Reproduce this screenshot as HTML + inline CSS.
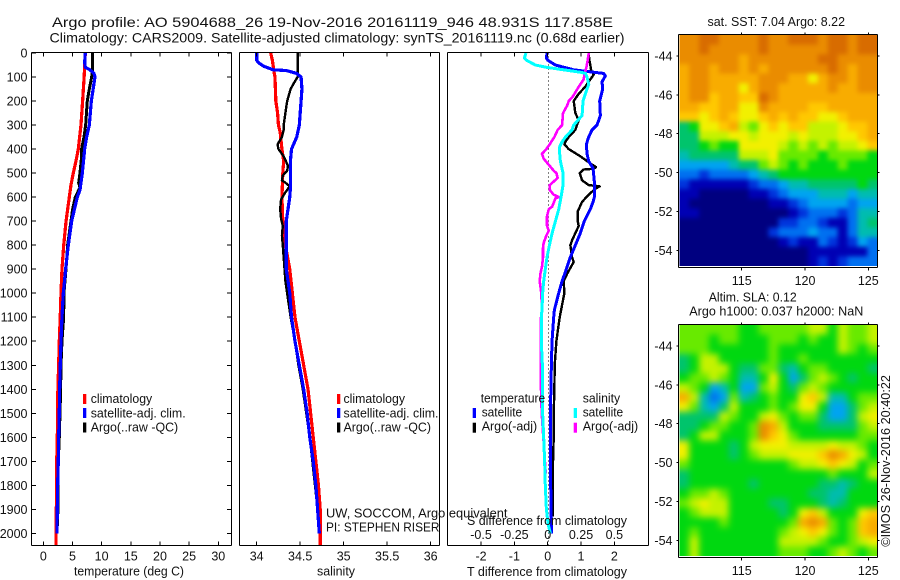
<!DOCTYPE html>
<html>
<head>
<meta charset="utf-8">
<title>Argo profile</title>
<style>
html,body{margin:0;padding:0;background:#fff;}
svg{display:block;}
text{font-family:"Liberation Sans",sans-serif;fill:#111;}
.t14{font-size:14px;}
.t12{font-size:12.5px;}
</style>
</head>
<body>
<svg id="chart" xmlns="http://www.w3.org/2000/svg" width="900" height="580" viewBox="0 0 900 580">
  <defs>
    <clipPath id="clip-sst"><rect x="679.5" y="35" width="198" height="231"/></clipPath>
    <clipPath id="clip-sla"><rect x="679.5" y="325" width="198" height="231"/></clipPath>
    <filter id="blur-sst" filterUnits="userSpaceOnUse" x="640" y="0" width="260" height="300" color-interpolation-filters="sRGB"><feGaussianBlur stdDeviation="2.5"/></filter>
    <filter id="blur-sla" filterUnits="userSpaceOnUse" x="640" y="290" width="260" height="290" color-interpolation-filters="sRGB"><feGaussianBlur stdDeviation="3.5"/></filter>
  </defs>

  <text class="t14" x="52" y="27" textLength="561" lengthAdjust="spacingAndGlyphs">Argo profile: AO 5904688_26 19-Nov-2016 20161119_946 48.931S 117.858E</text>
  <text class="t14" x="49.5" y="42.5" textLength="575" lengthAdjust="spacingAndGlyphs">Climatology: CARS2009. Satellite-adjusted climatology: synTS_20161119.nc (0.68d earlier)</text>

  <g id="plots"></g>
  <g id="maps"></g>

  <text class="t12" x="74" y="575.5" textLength="110" lengthAdjust="spacingAndGlyphs">temperature (deg C)</text>
  <text class="t12" x="317" y="575.5" textLength="38" lengthAdjust="spacingAndGlyphs">salinity</text>
  <text class="t12" x="467" y="576" textLength="160" lengthAdjust="spacingAndGlyphs">T difference from climatology</text>
  <text class="t12" x="467" y="525" textLength="160" lengthAdjust="spacingAndGlyphs">S difference from climatology</text>

  <g>
    <rect x="83" y="394" width="3.3" height="10" fill="#f00"/>
    <text class="t12" x="90.7" y="403" textLength="61.5" lengthAdjust="spacingAndGlyphs">climatology</text>
    <rect x="83" y="408" width="3.3" height="10" fill="#00f"/>
    <text class="t12" x="90.7" y="417.3" textLength="95" lengthAdjust="spacingAndGlyphs">satellite-adj. clim.</text>
    <rect x="83" y="422.5" width="3.3" height="10" fill="#000"/>
    <text class="t12" x="90.7" y="431.3" textLength="87.5" lengthAdjust="spacingAndGlyphs">Argo(..raw -QC)</text>
  </g>
  <g>
    <rect x="337" y="394" width="3.3" height="10" fill="#f00"/>
    <text class="t12" x="343.5" y="403" textLength="61.5" lengthAdjust="spacingAndGlyphs">climatology</text>
    <rect x="337" y="408" width="3.3" height="10" fill="#00f"/>
    <text class="t12" x="343.5" y="417.3" textLength="95" lengthAdjust="spacingAndGlyphs">satellite-adj. clim.</text>
    <rect x="337" y="422.5" width="3.3" height="10" fill="#000"/>
    <text class="t12" x="343.5" y="431.3" textLength="87.5" lengthAdjust="spacingAndGlyphs">Argo(..raw -QC)</text>
  </g>
  <g>
    <text class="t12" x="480.7" y="402.7" textLength="64.5" lengthAdjust="spacingAndGlyphs">temperature</text>
    <rect x="472.7" y="408" width="3.3" height="10" fill="#00f"/>
    <text class="t12" x="481.7" y="416.7" textLength="40.5" lengthAdjust="spacingAndGlyphs">satellite</text>
    <rect x="472.7" y="422.7" width="3.3" height="10" fill="#000"/>
    <text class="t12" x="481.7" y="430.7" textLength="55.5" lengthAdjust="spacingAndGlyphs">Argo(-adj)</text>
    <text class="t12" x="582.7" y="402.7" textLength="37.5" lengthAdjust="spacingAndGlyphs">salinity</text>
    <rect x="573.7" y="408" width="3.3" height="10" fill="#0ff"/>
    <text class="t12" x="582.7" y="416.7" textLength="40.5" lengthAdjust="spacingAndGlyphs">satellite</text>
    <rect x="573.7" y="422.7" width="3.3" height="10" fill="#f0f"/>
    <text class="t12" x="582.7" y="430.7" textLength="55.5" lengthAdjust="spacingAndGlyphs">Argo(-adj)</text>
  </g>

  <text class="t12" x="326" y="517.3" textLength="181.5" lengthAdjust="spacingAndGlyphs">UW, SOCCOM, Argo equivalent</text>
  <text class="t12" x="326" y="531.7" textLength="113.5" lengthAdjust="spacingAndGlyphs">PI: STEPHEN RISER</text>

  <text class="t12" x="707.5" y="26" textLength="137.5" lengthAdjust="spacingAndGlyphs">sat. SST: 7.04 Argo: 8.22</text>
  <text class="t12" x="708.7" y="301.7" textLength="88" lengthAdjust="spacingAndGlyphs">Altim. SLA: 0.12</text>
  <text class="t12" x="689.3" y="315.7" textLength="174" lengthAdjust="spacingAndGlyphs">Argo h1000: 0.037 h2000: NaN</text>
  <text class="t12" transform="translate(890,546.7) rotate(-90)" x="0" y="0" textLength="171.7" lengthAdjust="spacingAndGlyphs">©IMOS 26-Nov-2016 20:40:22</text>
</svg>

<script>
// ---------- depth axis ----------
const depthTicks = [0,100,200,300,400,500,600,700,800,900,1000,1100,1200,1300,1400,1500,1600,1700,1800,1900,2000];

// ---------- temperature panel ----------
const tempTicks = [0,5,10,15,20,25,30];
const tempClimDepth = [0,100,200,300,400,450,500,550,600,700,800,900,1000,1100,1200,1300,1400,1500,1600,1700,1800,1900,2050];
const tempClimValues = [7.2,7.0,6.74,6.46,6.0,5.6,5.14,4.74,4.46,3.9,3.5,3.2,3.03,2.9,2.74,2.63,2.5,2.46,2.4,2.3,2.3,2.23,2.17];
const tempSatDepth = [0,40,60,70,85,100,200,300,350,400,500,570,600,700,800,900,1000,1100,1200,1300,1400,1500,1600,1700,1800,1900,2000];
const tempSatValues = [7.2,7.09,7.2,8.0,8.69,8.86,8.23,7.89,7.43,7.09,6.69,6.29,5.83,4.86,4.29,3.83,3.43,3.2,3.03,2.91,2.8,2.74,2.63,2.57,2.46,2.4,2.34];
const tempArgoDepth = [0,80,100,150,200,300,350,400,430,500,540,560,600,650,700,800,900,1000,1100,1200,1300,1400,1500,1600,1700,1800,1900,2000];
const tempArgoValues = [8.4,8.4,8.29,7.89,7.54,7.26,6.97,6.57,6.57,6.29,6.06,6.29,5.49,5.03,4.74,4.17,3.89,3.54,3.49,3.2,3.03,2.97,2.86,2.74,2.57,2.51,2.51,2.34];

// ---------- salinity panel ----------
const salTicks = [34,34.5,35,35.5,36];
const salClimDepth = [0,30,80,100,200,250,300,330,400,450,500,600,700,800,900,1000,1100,1200,1300,1400,1500,1600,1700,1800,1900,2050];
const salClimValues = [34.16,34.18,34.20,34.21,34.22,34.24,34.25,34.27,34.29,34.31,34.30,34.29,34.30,34.33,34.38,34.41,34.44,34.49,34.54,34.59,34.62,34.65,34.68,34.71,34.73,34.73];
const salSatDepth = [0,30,40,55,70,73,85,100,150,200,300,350,400,440,500,550,600,700,800,900,1000,1100,1200,1300,1400,1500,1600,1700,1800,1900,2000];
const salSatValues = [34,34,34.02,34.08,34.19,34.34,34.46,34.51,34.52,34.51,34.49,34.46,34.40,34.39,34.39,34.39,34.38,34.34,34.34,34.34,34.38,34.40,34.44,34.49,34.54,34.58,34.61,34.65,34.68,34.70,34.72];
const salArgoDepth = [0,80,100,130,150,200,250,300,320,350,380,400,430,470,490,510,530,540,555,580,610,650,690,720,760,800,850,950,1000,1100,1200,1300,1400,1500,1600,1700,1800,1900,2000];
const salArgoValues = [34.47,34.47,34.47,34.42,34.39,34.35,34.33,34.31,34.31,34.29,34.24,34.25,34.31,34.36,34.35,34.30,34.29,34.33,34.38,34.33,34.28,34.27,34.28,34.30,34.29,34.30,34.31,34.33,34.35,34.39,34.44,34.48,34.53,34.57,34.61,34.64,34.67,34.70,34.72];

// ---------- difference panel ----------
const tDiffTicks = [-2,-1,0,1,2];
const sDiffTicks = [-0.5,-0.25,0,0.25,0.5];
const tDiffSatDepth = [0,20,30,50,70,80,85,95,120,150,200,260,300,320,350,380,420,450,480,550,600,620,650,700,750,800,850,900,950,1000,1070,1100,1200,1300,1500,1700,1900,2000];
const tDiffSatValues = [-0.02,-0.04,0,0.23,0.78,1.38,1.68,1.73,1.63,1.65,1.56,1.58,1.48,1.33,1.23,1.16,1.18,1.23,1.36,1.41,1.40,1.36,1.28,1.10,0.98,0.83,0.68,0.56,0.43,0.33,0.20,0.18,0.13,0.11,0.08,0.08,0.10,0.12];
const tDiffArgoDepth = [0,30,50,70,90,110,140,170,200,250,280,320,350,370,380,400,430,460,475,482,485,500,530,550,555,565,590,620,660,700,720,750,780,800,830,850,870,890,920,950,1000,1050,1100,1200,1300,1400,1500,1600,1700,1930];
const tDiffArgoValues = [1.23,1.25,1.28,1.30,1.38,1.28,1.13,0.93,0.78,0.83,0.93,0.83,0.63,0.53,0.50,0.63,0.98,1.28,1.45,1.38,1.08,0.96,1.03,1.23,1.56,1.43,1.23,1.03,0.90,0.90,0.93,0.83,0.73,0.68,0.71,0.73,0.78,0.70,0.58,0.48,0.50,0.43,0.36,0.26,0.21,0.20,0.18,0.18,0.16,0.16];
const sDiffSatDepth = [0,20,30,50,60,70,80,85,100,130,150,200,260,300,320,350,370,390,420,450,500,550,600,650,700,750,800,850,900,950,1000,1070,1100,1200,1300,1400,1500,1600,1700,1800,1900,1960,2000];
const sDiffSatValues = [-0.163,-0.175,-0.16,-0.093,-0.005,0.12,0.245,0.283,0.295,0.308,0.295,0.265,0.258,0.195,0.183,0.133,0.108,0.09,0.09,0.095,0.115,0.115,0.10,0.083,0.058,0.033,0.013,-0.005,-0.018,-0.03,-0.038,-0.043,-0.048,-0.048,-0.04,-0.04,-0.038,-0.03,-0.023,-0.018,-0.01,0.003,0.02];
const sDiffArgoDepth = [0,30,60,90,110,140,180,200,220,250,300,320,350,380,400,420,440,460,490,500,520,535,550,570,590,600,605,640,650,680,720,740,760,790,810,850,890,920,950,1000,1070,1100,1200,1400,1500,1750];
const sDiffArgoValues = [0.308,0.30,0.29,0.275,0.27,0.233,0.19,0.158,0.145,0.115,0.108,0.075,0.05,0.015,-0.01,-0.043,-0.03,0,0.045,0.065,0.075,0.045,0.015,0.015,0.045,0.083,0.058,0.033,0.008,-0.005,-0.005,0.008,-0.01,-0.03,-0.035,-0.035,-0.043,-0.055,-0.06,-0.048,-0.043,-0.05,-0.05,-0.05,-0.045,-0.015];

// ---------- maps ----------
const lonTicks = [115,120,125];
const latTicks = [-44,-46,-48,-50,-52,-54];
const sstLevels = [
[13,13,14,14,13,13,13,13,14,13,13,14,14,14,13,14,14,13,14,14],
[13,13,14,13,13,13,13,13,14,13,13,13,13,13,13,14,14,13,14,14],
[13,13,13,13,13,13,12,13,13,13,13,13,13,13,14,14,13,13,13,13],
[12,13,13,12,13,13,12,13,12,13,13,13,13,13,13,14,13,12,13,13],
[12,13,13,12,12,12,12,12,13,13,13,12,12,10,12,13,13,12,13,13],
[12,13,13,12,12,12,10,12,13,13,12,12,12,12,12,13,12,12,13,13],
[12,13,13,11,12,12,11,11,14,13,12,12,12,12,12,12,12,12,12,12],
[12,12,11,11,12,12,10,10,13,12,12,12,12,11,11,12,12,12,12,12],
[11,11,10,11,12,11,10,10,11,12,11,12,11,11,10,10,11,12,12,12],
[6,7,10,10,11,12,9,8,10,11,10,11,11,9,9,9,10,11,11,12],
[6,6,9,9,9,10,10,9,10,10,10,9,10,9,9,9,10,10,11,12],
[6,6,7,8,7,7,10,10,10,10,9,8,9,8,9,8,9,9,10,11],
[5,6,6,6,6,6,9,9,9,10,8,8,8,8,7,8,8,8,8,7],
[4,4,4,4,4,5,6,6,8,9,8,7,8,7,7,7,8,7,7,7],
[3,3,2,3,3,3,3,4,5,6,7,7,7,7,7,7,7,7,7,7],
[2,1,1,1,1,1,1,2,3,3,4,5,5,6,6,6,6,6,7,6],
[1,1,0,0,0,0,0,1,1,2,3,4,4,4,5,5,5,4,5,5],
[1,0,0,0,0,0,0,0,0,1,1,2,3,4,4,4,4,3,4,4],
[1,1,0,0,0,0,0,0,0,0,0,1,2,3,3,3,2,3,5,5],
[0,0,0,0,0,0,0,0,0,0,2,2,3,3,2,1,1,3,5,6],
[0,0,0,0,0,0,0,0,0,2,3,3,3,4,3,3,1,3,5,5],
[0,0,0,0,0,0,0,0,0,0,1,2,1,1,3,2,1,2,4,3],
[0,0,0,0,0,0,0,0,0,0,0,0,0,1,1,1,1,1,1,3],
[0,0,0,0,0,0,0,0,0,0,0,0,0,1,2,1,2,3,3,3]
];
const slaLevels = [
[8,8,8,8,8,8,7,7,8,8,8,8,8,9,9,7,9,8,8,9],
[8,8,8,7,8,8,7,7,7,8,8,8,7,8,7,7,9,8,8,9],
[8,8,8,7,7,7,7,7,7,8,7,7,7,7,7,7,9,8,7,8],
[6,7,9,9,7,7,7,7,7,8,7,7,8,7,7,7,7,7,7,7],
[6,7,9,9,9,7,6,6,8,8,6,5,7,8,8,7,7,7,7,6],
[7,8,8,9,8,7,5,5,7,10,7,4,6,8,9,8,7,6,7,7],
[9,8,7,4,5,7,4,4,8,9,7,6,8,9,8,7,7,7,7,7],
[12,9,5,3,4,8,5,6,7,8,7,7,10,11,9,5,5,7,8,8],
[10,8,5,4,6,9,7,7,7,8,7,8,10,10,7,4,4,6,8,9],
[6,6,6,6,9,8,7,7,9,10,8,7,8,8,6,4,4,6,9,10],
[6,6,7,8,8,7,7,8,13,12,9,7,7,7,6,6,6,6,8,9],
[6,7,9,9,7,7,7,8,13,11,10,8,7,7,7,7,7,7,8,8],
[10,7,7,7,7,6,7,9,10,10,10,9,9,9,9,10,9,9,8,7],
[10,7,7,7,7,6,7,8,9,9,9,10,10,10,11,13,12,10,9,7],
[8,7,7,7,7,7,7,7,7,7,7,8,9,9,10,11,10,9,7,8],
[6,7,7,7,7,7,7,7,7,7,7,7,7,7,7,8,7,7,7,9],
[6,7,7,7,7,7,7,6,7,7,7,7,7,7,6,6,5,6,7,7],
[7,8,8,9,8,7,7,7,7,7,7,7,7,6,6,5,5,7,7,7],
[8,9,10,9,9,7,7,7,7,6,6,7,7,7,6,5,6,7,7,7],
[7,8,9,9,9,7,7,7,7,7,6,7,10,11,9,7,7,7,10,11],
[7,7,7,7,8,7,7,7,7,7,7,8,12,13,12,8,7,8,11,12],
[7,8,7,7,7,7,7,7,7,7,8,9,10,11,10,8,7,8,11,12],
[7,9,7,7,7,7,7,7,7,7,9,9,9,9,8,7,7,8,9,10],
[7,9,7,7,7,7,7,7,7,7,8,8,8,7,7,8,9,8,7,8]
];
const colorScale = ['#000080','#0000b4','#0034dc','#0070f0','#00a4f0','#00bcb0','#00c46c','#00d810','#68ea00','#c4f200','#f2f000','#ffc800','#f8ac00','#ea8c00','#d86c00'];

// ---------- axis functions ----------
const NS = 'http://www.w3.org/2000/svg';
const yDepth = d => 53 + d * 0.2402;
const xTemp = v => 43.3 + v * 5.833;
const xSal = v => 256.7 + (v - 34) * 87;
const xTDiff = v => 547.7 + v * 33.33;
const xSDiff = v => 547.7 + v * 133.33;
const mapX = lon => 741.7 + (lon - 115) * 12.66;
const mapY = (lat, top) => top + 21 + (-44 - lat) * 19.43;
const colorOf = v => colorScale[Math.max(0, Math.min(colorScale.length - 1, Math.round(v)))];

function make(tag, parent) {
  const e = document.createElementNS(NS, tag);
  parent.appendChild(e);
  return e;
}
function drawLine(parent, x1, y1, x2, y2, name) {
  const el = make('line', parent);
  
  
  el.setAttribute('x1', x1);
  el.setAttribute('y1', y1);
  el.setAttribute('x2', x2);
  el.setAttribute('y2', y2);
  el.setAttribute('stroke', '#000');
  el.setAttribute('stroke-width', '1');
  el.setAttribute('shape-rendering', 'crispEdges');
  return el;
}
function drawLabel(parent, x, y, str, anchor, name) {
  const el = make('text', parent);
  
  
  el.setAttribute('class', 't12');
  el.setAttribute('x', x);
  el.setAttribute('y', y);
  el.setAttribute('text-anchor', anchor);
  el.textContent = str;
  return el;
}
function drawSeries(parent, depth, values, xf, color, width, name) {
  const el = make('polyline', parent);
  
  
  el.setAttribute('fill', 'none');
  el.setAttribute('stroke', color);
  el.setAttribute('stroke-width', width);
  el.setAttribute('stroke-linejoin', 'round');
  el.setAttribute('shape-rendering', 'crispEdges');
  el.setAttribute('points', values.map((v, i) => xf(v).toFixed(2) + ',' + yDepth(depth[i]).toFixed(2)).join(' '));
  return el;
}
function drawFrame(parent, l, r, t, b, name) {
  drawLine(parent, l, t, r, t, name + '-top');
  drawLine(parent, l, b, r, b, name + '-bottom');
  drawLine(parent, l, t, l, b, name + '-left');
  drawLine(parent, r, t, r, b, name + '-right');
}
function drawHeatmap(root, levels, top, clipId, filterId, name) {
  const lonMin = 110.07, lonMax = 125.71, latMax = -42.92, latMin = -54.81;
  const clip = make('g', root);
  
  
  clip.setAttribute('clip-path', 'url(#' + clipId + ')');
  const g = make('g', clip);
  g.setAttribute('filter', 'url(#' + filterId + ')');
  const nr = levels.length, nc = levels[0].length;
  levels.forEach((row, r) => {
    row.forEach((v, c) => {
      let x0 = mapX(lonMin + (lonMax - lonMin) * c / nc);
      let x1 = mapX(lonMin + (lonMax - lonMin) * (c + 1) / nc);
      let y0 = mapY(latMax + (latMin - latMax) * r / nr, top);
      let y1 = mapY(latMax + (latMin - latMax) * (r + 1) / nr, top);
      if (c === 0) x0 -= 20;
      if (c === nc - 1) x1 += 20;
      if (r === 0) y0 -= 20;
      if (r === nr - 1) y1 += 20;
      const el = make('rect', g);
      
      
      el.setAttribute('x', x0.toFixed(2));
      el.setAttribute('y', y0.toFixed(2));
      el.setAttribute('width', (x1 - x0 + 0.6).toFixed(2));
      el.setAttribute('height', (y1 - y0 + 0.6).toFixed(2));
      el.setAttribute('fill', colorOf(v));
    });
  });
}
function drawMapAxes(root, top, bottom, name) {
  drawFrame(root, 678.5, 877.5, top - 0.5, bottom + 1.5, name + '-frame');
  lonTicks.forEach(t => {
    drawLine(root, mapX(t), top - 0.5, mapX(t), top - 2.5, 'map-top-tick');
    drawLine(root, mapX(t), bottom + 1.5, mapX(t), bottom + 4.5, 'map-bottom-tick');
    drawLabel(root, mapX(t), bottom + 19, String(t), 'middle', 'longitude-tick-label');
  });
  latTicks.forEach(t => {
    const y = mapY(t, top);
    drawLine(root, 678.5, y, 676.5, y, 'map-left-tick');
    drawLine(root, 877.5, y, 879.5, y, 'map-right-tick');
    drawLabel(root, 672.5, y + 4.5, String(t), 'end', 'latitude-tick-label');
  });
}

// ---------- profile panels ----------
const plots = document.getElementById('plots');
const T = 52.5, B = 545.5;

// temperature
drawSeries(plots, tempClimDepth, tempClimValues, xTemp, '#f00', 3.2, 'temperature-climatology-line');
drawSeries(plots, tempArgoDepth, tempArgoValues, xTemp, '#000', 3, 'temperature-argo-line');
drawSeries(plots, tempSatDepth, tempSatValues, xTemp, '#00f', 3.2, 'temperature-satellite-line');
drawFrame(plots, 31.5, 231.5, T, B, 'temperature-panel-frame');
depthTicks.forEach(d => {
  drawLine(plots, 31.5, yDepth(d), 36, yDepth(d), 'depth-tick-left');
  drawLine(plots, 231.5, yDepth(d), 227, yDepth(d), 'depth-tick-right');
  drawLabel(plots, 27.5, yDepth(d) + 4.5, String(d), 'end', 'depth-tick-label');
});
tempTicks.forEach(t => {
  drawLine(plots, xTemp(t), T, xTemp(t), T + 4, 'temperature-tick-top');
  drawLine(plots, xTemp(t), B, xTemp(t), B - 4, 'temperature-tick-bottom');
  drawLabel(plots, xTemp(t), 560.7, String(t), 'middle', 'temperature-tick-label');
});

// salinity
drawSeries(plots, salClimDepth, salClimValues, xSal, '#f00', 3.2, 'salinity-climatology-line');
drawSeries(plots, salArgoDepth, salArgoValues, xSal, '#000', 2.4, 'salinity-argo-line');
drawSeries(plots, salSatDepth, salSatValues, xSal, '#00f', 3.2, 'salinity-satellite-line');
drawFrame(plots, 239.5, 439.5, T, B, 'salinity-panel-frame');
salTicks.forEach(t => {
  drawLine(plots, xSal(t), T, xSal(t), T + 4, 'salinity-tick-top');
  drawLine(plots, xSal(t), B, xSal(t), B - 4, 'salinity-tick-bottom');
  drawLabel(plots, xSal(t), 560.7, String(t), 'middle', 'salinity-tick-label');
});

// differences
const zero = make('line', plots);


zero.setAttribute('x1', xTDiff(0) + 0.6);
zero.setAttribute('x2', xTDiff(0) + 0.6);
zero.setAttribute('y1', T);
zero.setAttribute('y2', B);
zero.setAttribute('stroke', '#000');
zero.setAttribute('stroke-width', '1');
zero.setAttribute('stroke-dasharray', '1 3');
zero.setAttribute('shape-rendering', 'crispEdges');
drawSeries(plots, tDiffArgoDepth, tDiffArgoValues, xTDiff, '#000', 2.4, 't-difference-argo-line');
drawSeries(plots, tDiffSatDepth, tDiffSatValues, xTDiff, '#00f', 3, 't-difference-satellite-line');
drawSeries(plots, sDiffArgoDepth, sDiffArgoValues, xSDiff, '#f0f', 2.6, 's-difference-argo-line');
drawSeries(plots, sDiffSatDepth, sDiffSatValues, xSDiff, '#0ff', 3, 's-difference-satellite-line');
drawFrame(plots, 447.5, 648.5, T, B, 'difference-panel-frame');
tDiffTicks.forEach(t => {
  drawLine(plots, xTDiff(t), T, xTDiff(t), T + 4, 't-difference-tick-top');
  drawLine(plots, xTDiff(t), B, xTDiff(t), B - 4, 't-difference-tick-bottom');
  drawLabel(plots, xTDiff(t), 560.5, String(t), 'middle', 't-difference-tick-label');
});
sDiffTicks.forEach(t => {
  drawLabel(plots, xSDiff(t), 539, String(t), 'middle', 's-difference-tick-label');
});

// ---------- maps ----------
const maps = document.getElementById('maps');
drawHeatmap(maps, sstLevels, 35, 'clip-sst', 'blur-sst', 'sst-heatmap');
drawMapAxes(maps, 35, 266, 'sst-map');
drawHeatmap(maps, slaLevels, 325, 'clip-sla', 'blur-sla', 'sla-heatmap');
drawMapAxes(maps, 325, 556, 'sla-map');
</script>
</body>
</html>
